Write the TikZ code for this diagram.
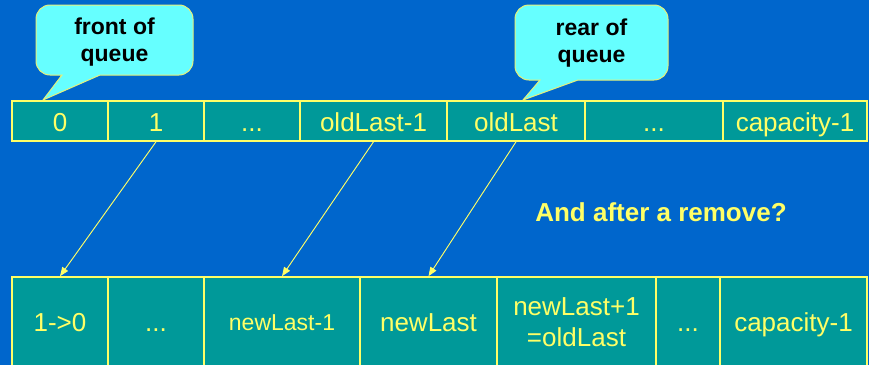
\documentclass[tikz,border=0pt]{standalone}
\usepackage{fontspec}
\setmainfont{Liberation Sans}
\usetikzlibrary{arrows.meta}
\definecolor{bgblue}{HTML}{0066CC}
\definecolor{cellteal}{HTML}{009999}
\definecolor{lineyellow}{HTML}{FFFF66}
\definecolor{calloutcyan}{HTML}{66FFFF}
\definecolor{calloutedge}{HTML}{E6F07A}
\tikzset{
  cellbox/.style={draw=lineyellow, fill=cellteal, line width=1.6pt, inner sep=0pt,
    text=lineyellow, font=\fontsize{26}{31}\selectfont, align=center},
  topcell/.style={cellbox, minimum height=40pt, text height=25pt, text depth=5pt},
  botcell/.style={cellbox, minimum height=90pt, text height=24pt, text depth=6pt},
  botcelltwo/.style={cellbox, minimum height=90pt},
  callout/.style={fill=calloutcyan, draw=calloutedge, line width=1pt},
  callouttext/.style={font=\fontsize{23}{27}\selectfont\bfseries, text=black, align=center, inner sep=0pt},
  arr/.style={draw=lineyellow, line width=0.9pt, -{Triangle[length=9pt,width=7pt]}, fill=lineyellow},
}
\begin{document}
\begin{tikzpicture}[x=1pt,y=-1pt]
\useasboundingbox (0,0) rectangle (869,364);
\fill[bgblue] (-5,-5) rectangle (874,369);
% callouts
\draw[callout] (62,75) [rounded corners=14pt] -- (36,75) -- (36,5) -- (193,5) -- (193,75) [sharp corners] -- (100,75) -- (43,100) -- cycle;
\node[callouttext] (front) at (114.5,42) {front of\\queue};
\draw[callout] (540,80) [rounded corners=14pt] -- (515,80) -- (515,5) -- (668,5) -- (668,80) [sharp corners] -- (578,80) -- (523,100) -- cycle;
\node[callouttext] (rear) at (591.5,43) {rear of\\queue};
% top row
\node[topcell, minimum width=96pt] (t0) at (60,121) {0};
\node[topcell, minimum width=96pt] (t1) at (156,121) {1};
\node[topcell, minimum width=96pt] (t2) at (252,121) {...};
\node[topcell, minimum width=147pt] (t3) at (373.5,121) {oldLast-1};
\node[topcell, minimum width=138pt] (t4) at (516,121) {oldLast};
\node[topcell, minimum width=138pt] (t5) at (654,121) {...};
\node[topcell, minimum width=144pt] (t6) at (795,121) {capacity-1};
% bottom row
\node[botcell, minimum width=96pt] (b0) at (60,322) {1->0};
\node[botcell, minimum width=96pt] (b1) at (156,322) {...};
\node[botcell, minimum width=156pt, font=\fontsize{23}{27}\selectfont, text height=21pt, text depth=5pt] (b2) at (282,322) {newLast-1};
\node[botcell, minimum width=137pt] (b3) at (428.5,322) {newLast};
\node[botcelltwo, minimum width=159pt] (b4) at (576.5,322) {newLast+1\\=oldLast};
\node[botcell, minimum width=64pt] (b5) at (688,322) {...};
\node[botcell, minimum width=147pt] (b6) at (793.5,322) {capacity-1};
% text
\node[font=\fontsize{26}{31}\selectfont\bfseries, text=lineyellow, inner sep=0pt] (q) at (661,212) {And after a remove?};
% arrows
\draw[arr] (t1.south) -- (b0.north);
\draw[arr] (t3.south) -- (b2.north);
\draw[arr] (t4.south) -- (b3.north);
\end{tikzpicture}
\end{document}
